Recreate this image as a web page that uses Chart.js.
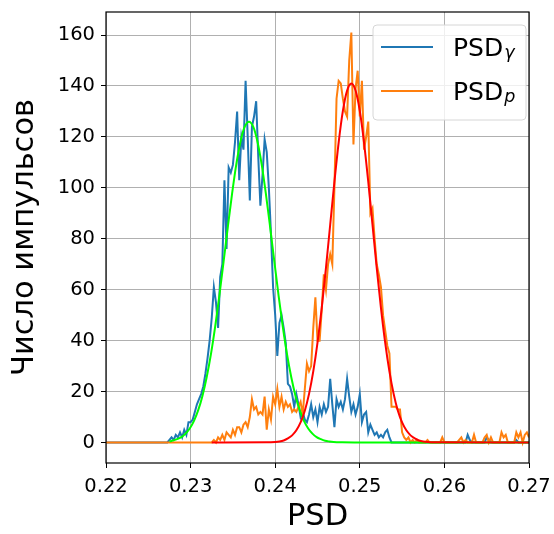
<!DOCTYPE html>
<html>
<head>
<meta charset="utf-8">
<script src="https://cdn.jsdelivr.net/npm/chart.js@4.4.1/dist/chart.umd.min.js"></script>
<style>
  html, body { margin: 0; padding: 0; background: #fff; }
  #wrap { width: 554px; height: 534px; }
</style>
</head>
<body>
<div id="wrap"><canvas id="psdChart" width="554" height="534"></canvas></div>
<script>
// histogram bins: left edge and width
const binStart = 0.22;
const binWidth = 0.00025;

const gammaCounts = [
  0, 0, 0, 0, 0, 0, 0, 0, 0, 0,
  0, 0, 0, 0, 0, 0, 0, 0, 0, 0,
  0, 0, 0, 0, 0, 0, 0, 0, 0, 0,
  1, 2, 1, 3, 2, 4, 2, 5, 3, 8,
  8, 9, 12, 15, 17, 19, 22, 27, 33, 40,
  49, 61, 55, 45, 65, 70, 103, 76, 108, 106,
  109, 118, 130, 103, 120, 115, 142, 120, 95, 124,
  128, 134, 112, 93, 105, 119, 114, 100, 82, 61,
  50, 34, 47, 50, 45, 39, 23, 22, 19, 14,
  19, 15, 10, 12, 9, 8, 11, 15, 10, 13,
  8, 14, 11, 15, 12, 14, 25, 15, 6, 17,
  14, 16, 13, 17, 25, 18, 12, 15, 11, 14,
  19, 8, 11, 12, 4, 7, 5, 3, 4, 2,
  3, 2, 4, 5, 2, 0, 0, 0, 0, 0,
  0, 0, 0, 0, 0, 0, 0, 0, 0, 0,
  0, 0, 0, 0, 0, 0, 0, 0, 0, 0,
  0, 0, 0, 0, 0, 0, 0, 0, 0, 0,
  0, 3, 1, 0, 0, 0, 0, 0, 0, 0,
  2, 1, 0, 0, 0, 0, 0, 0, 0, 0,
  0, 0, 0, 0, 1, 0, 0, 0, 0, 0,
  0
];

const protonCounts = [
  0, 0, 0, 0, 0, 0, 0, 0, 0, 0,
  0, 0, 0, 0, 0, 0, 0, 0, 0, 0,
  0, 0, 0, 0, 0, 0, 0, 0, 0, 0,
  0, 0, 0, 0, 0, 0, 0, 0, 0, 0,
  0, 0, 0, 0, 0, 0, 0, 0, 0, 0,
  0, 1, 0, 2, 1, 3, 1, 4, 3, 2,
  5, 3, 6, 6, 4, 7, 8, 6, 10, 17,
  13, 14, 11, 12, 11, 18, 5, 13, 9, 18,
  15, 21, 14, 18, 13, 16, 14, 15, 12, 13,
  12, 14, 16, 11, 21, 31, 28, 30, 45, 57,
  40, 40, 52, 66, 60, 70, 74, 70, 100, 135,
  142, 141, 135, 130, 128, 150, 161, 117, 139, 146,
  128, 142, 115, 120, 126, 90, 92, 80, 70, 66,
  61, 50, 44, 38, 35, 14, 14, 14, 13, 13,
  4, 2, 1, 2, 0, 1, 0, 1, 0, 0,
  0, 0, 1, 0, 0, 0, 0, 0, 0, 2,
  0, 0, 0, 0, 0, 0, 0, 1, 2, 0,
  1, 0, 0, 0, 3, 0, 0, 0, 0, 2,
  3, 0, 2, 0, 0, 0, 0, 4, 2, 3,
  0, 0, 0, 0, 4, 2, 4, 0, 3, 4,
  2
];

// gaussian fit curves
const gammaFitX = [0.2275, 0.2284, 0.2289, 0.2294, 0.2299, 0.2304, 0.2309, 0.2314, 0.2319, 0.2324,
  0.2329, 0.2334, 0.2339, 0.2344, 0.2349, 0.2354, 0.2359, 0.2364, 0.2369, 0.2374,
  0.2379, 0.2384, 0.2389, 0.2394, 0.2399, 0.2404, 0.2409, 0.2414, 0.2419, 0.2424,
  0.2429, 0.2434, 0.2439, 0.2444, 0.2449, 0.2454, 0.2459, 0.2464, 0.2469, 0.2479,
  0.25, 0.27];
const gammaFitY = [0.4, 1.3, 2.1, 3.5, 5.5, 8.5, 12.7, 18.3, 25.6, 34.6,
  45.4, 57.7, 71.0, 84.6, 97.6, 109.2, 118.2, 124.0, 126, 124.0,
  118.2, 109.2, 97.6, 84.6, 71.0, 57.7, 45.4, 34.6, 25.6, 18.3,
  12.7, 8.5, 5.5, 3.5, 2.1, 1.3, 0.7, 0.4, 0.2, 0.06,
  0, 0];

const protonFitX = [0.2325, 0.239, 0.24, 0.2405, 0.241, 0.2415, 0.242, 0.2425, 0.243, 0.2435,
  0.244, 0.2445, 0.245, 0.2455, 0.246, 0.2465, 0.247, 0.2475, 0.248, 0.2485,
  0.249, 0.2495, 0.25, 0.2505, 0.251, 0.2515, 0.252, 0.2525, 0.253, 0.2535,
  0.254, 0.2545, 0.255, 0.2555, 0.256, 0.2565, 0.257, 0.2575, 0.258, 0.259,
  0.27];
const protonFitY = [0, 0.05, 0.2, 0.4, 0.8, 1.6, 2.8, 4.8, 7.9, 12.5,
  19.1, 27.9, 39.2, 52.9, 68.6, 85.5, 102.4, 117.8, 130.2, 138.2,
  141, 138.2, 130.2, 117.8, 102.4, 85.5, 68.6, 52.9, 39.2, 27.9,
  19.1, 12.5, 7.9, 4.8, 2.8, 1.6, 0.8, 0.4, 0.2, 0.05,
  0];

const xTicks = [0.22, 0.23, 0.24, 0.25, 0.26, 0.27];
const yTicks = [0, 20, 40, 60, 80, 100, 120, 140, 160];
const legendMain = 'PSD';
const legendSubs = ['γ', 'p'];

const FONT = 'DejaVu Sans';

function histPoints(counts) {
  return counts.map((c, i) => ({ x: binStart + i * binWidth, y: c }));
}
function curvePoints(xs, ys) {
  return xs.map((x, i) => ({ x: x, y: ys[i] }));
}

// black box around the plot area
const framePlugin = {
  id: 'frame',
  afterDatasetsDraw(chart) {
    const { ctx, chartArea: a } = chart;
    ctx.save();
    ctx.strokeStyle = '#000';
    ctx.lineWidth = 1.2;
    ctx.strokeRect(a.left, a.top, a.right - a.left, a.bottom - a.top);
    ctx.restore();
  }
};

// legend with subscripts, drawn by hand
const psdLegend = {
  id: 'psdLegend',
  afterDraw(chart) {
    const { ctx, chartArea: a } = chart;
    const boxW = 153, boxH = 95;
    const bx = a.right - 3 - boxW, by = a.top + 13;
    ctx.save();
    ctx.beginPath();
    ctx.roundRect(bx, by, boxW, boxH, 4);
    ctx.fillStyle = 'rgba(255,255,255,0.8)';
    ctx.fill();
    ctx.strokeStyle = '#d6d6d6';
    ctx.lineWidth = 1;
    ctx.stroke();

    const sets = chart.data.datasets.filter(d => d.legendIndex !== undefined)
      .sort((p, q) => p.legendIndex - q.legendIndex);
    sets.forEach((ds, i) => {
      const cy = by + 22 + i * 44;
      ctx.beginPath();
      ctx.moveTo(bx + 8, cy);
      ctx.lineTo(bx + 60, cy);
      ctx.strokeStyle = ds.borderColor;
      ctx.lineWidth = 2;
      ctx.stroke();

      ctx.fillStyle = '#000';
      ctx.textBaseline = 'alphabetic';
      ctx.textAlign = 'left';
      ctx.font = '25px "' + FONT + '"';
      const tx = bx + 80;
      ctx.fillText(legendMain, tx, cy + 9);
      const w = ctx.measureText(legendMain).width;
      ctx.font = 'italic 17.5px "' + FONT + '"';
      ctx.fillText(legendSubs[i], tx + w + 1, cy + 11);
    });
    ctx.restore();
  }
};

const ctx = document.getElementById('psdChart').getContext('2d');

new Chart(ctx, {
  type: 'line',
  data: {
    datasets: [
      {
        label: 'PSD_gamma',
        legendIndex: 0,
        data: histPoints(gammaCounts),
        borderColor: '#1f77b4',
        borderWidth: 2,
        pointRadius: 0,
        tension: 0,
        order: 4
      },
      {
        label: 'PSD_p',
        legendIndex: 1,
        data: histPoints(protonCounts),
        borderColor: '#ff7f0e',
        borderWidth: 2,
        pointRadius: 0,
        tension: 0,
        order: 3
      },
      {
        label: 'fit gamma',
        data: curvePoints(gammaFitX, gammaFitY),
        borderColor: '#00ff00',
        borderWidth: 2,
        pointRadius: 0,
        cubicInterpolationMode: 'monotone',
        order: 2
      },
      {
        label: 'fit p',
        data: curvePoints(protonFitX, protonFitY),
        borderColor: '#ff0000',
        borderWidth: 2,
        pointRadius: 0,
        cubicInterpolationMode: 'monotone',
        order: 1
      }
    ]
  },
  options: {
    responsive: false,
    animation: false,
    layout: { padding: { top: 12, right: 25, left: 0, bottom: 0 } },
    plugins: {
      legend: { display: false },
      tooltip: { enabled: false }
    },
    scales: {
      x: {
        type: 'linear',
        min: 0.22,
        max: 0.27,
        afterBuildTicks: s => { s.ticks = xTicks.map(v => ({ value: v })); },
        afterFit: s => { s.height = 71; s.paddingLeft = 0; s.paddingRight = 0; },
        ticks: {
          callback: v => v.toFixed(2),
          font: { family: FONT, size: 19.5 },
          color: '#000',
          padding: 7,
          maxRotation: 0,
          autoSkip: false
        },
        grid: { color: '#b0b0b0', tickColor: '#000', tickLength: 5, lineWidth: 1 },
        border: { display: false },
        title: {
          display: true,
          text: 'PSD',
          color: '#000',
          font: { family: FONT, size: 30.5, lineHeight: 1 },
          padding: { top: 0, bottom: 2 }
        }
      },
      y: {
        min: -8.05,
        max: 169.05,
        afterBuildTicks: s => { s.ticks = yTicks.map(v => ({ value: v })); },
        afterFit: s => { s.width = 106; s.paddingTop = 0; s.paddingBottom = 0; },
        ticks: {
          font: { family: FONT, size: 19.5 },
          color: '#000',
          padding: 6,
          autoSkip: false
        },
        grid: { color: '#b0b0b0', tickColor: '#000', tickLength: 5, lineWidth: 1 },
        border: { display: false },
        title: {
          display: true,
          text: 'Число импульсов',
          color: '#000',
          font: { family: FONT, size: 30.5, lineHeight: 1 },
          padding: { top: 10, bottom: 0 }
        }
      }
    }
  },
  plugins: [framePlugin, psdLegend]
});
</script>
</body>
</html>
